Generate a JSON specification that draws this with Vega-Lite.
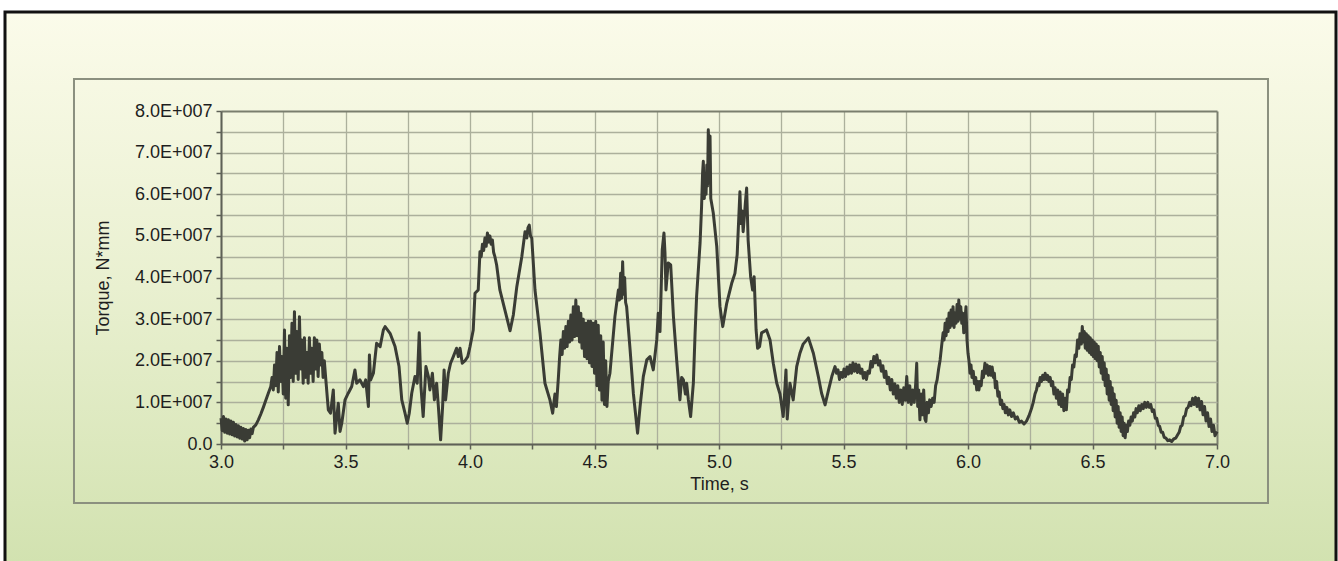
{
  "$schema": "https://vega.github.io/schema/vega-lite/v6.json",
  "width": 1331,
  "height": 551,
  "autosize": {"type": "none"},
  "padding": {"left": 5, "top": 12, "right": 2, "bottom": -2},
  "background": "#ffffff",
  "config": {
    "view": {
      "fill": {"gradient": "linear", "x1": 0, "y1": 0, "x2": 0, "y2": 1,
        "stops": [{"offset": 0, "color": "#fbfbea"}, {"offset": 0.5, "color": "#e9f0d0"}, {"offset": 1, "color": "#d2e2b0"}]},
      "stroke": "#111111",
      "strokeWidth": 3
    }
  },
  "resolve": {"axis": {"x": "independent", "y": "independent"}},
  "layer": [
    {
      "data": {"values": [{}]},
      "mark": {"type": "rect", "filled": false, "stroke": "#8b907f", "strokeWidth": 2},
      "encoding": {
        "x": {"datum": 2.4096, "type": "quantitative",
          "scale": {"domain": [3, 7], "range": [216, 1212], "nice": false, "zero": false},
          "axis": {"orient": "top", "grid": true, "labels": false, "ticks": false, "domain": false, "title": null,
            "values": [3, 3.25, 3.5, 3.75, 4, 4.25, 4.5, 4.75, 5, 5.25, 5.5, 5.75, 6, 6.25, 6.5, 6.75, 7],
            "gridColor": {"condition": {"test": "datum.value >= 7", "value": "#7a7e6e"}, "value": "#acb09c"},
            "gridWidth": {"condition": {"test": "datum.value >= 7", "value": 2}, "value": 1.3}}},
        "x2": {"datum": 7.2048},
        "y": {"datum": 87688000, "type": "quantitative",
          "scale": {"domain": [0, 80000000], "range": [432, 99], "nice": false, "zero": false},
          "axis": null},
        "y2": {"datum": -14174000}
      }
    },
    {
      "data": {"values": [
{"t":3.000,"v":0.62e7},{"t":3.005,"v":0.32e7},{"t":3.010,"v":0.66e7},{"t":3.015,"v":0.28e7},{"t":3.020,"v":0.60e7},{"t":3.025,"v":0.26e7},{"t":3.030,"v":0.58e7},{"t":3.035,"v":0.24e7},{"t":3.040,"v":0.55e7},{"t":3.045,"v":0.22e7},{"t":3.050,"v":0.52e7},{"t":3.055,"v":0.19e7},{"t":3.060,"v":0.47e7},{"t":3.065,"v":0.17e7},{"t":3.070,"v":0.44e7},{"t":3.075,"v":0.14e7},{"t":3.080,"v":0.40e7},{"t":3.085,"v":0.12e7},{"t":3.090,"v":0.37e7},{"t":3.095,"v":0.07e7},{"t":3.100,"v":0.35e7},{"t":3.105,"v":0.10e7},{"t":3.110,"v":0.33e7},{"t":3.115,"v":0.15e7},{"t":3.120,"v":0.36e7},{"t":3.125,"v":0.25e7},{"t":3.130,"v":0.40e7},{"t":3.140,"v":0.46e7},{"t":3.150,"v":0.58e7},{"t":3.160,"v":0.72e7},{"t":3.170,"v":0.88e7},{"t":3.180,"v":1.05e7},{"t":3.190,"v":1.22e7},{"t":3.200,"v":1.38e7},
{"t":3.205,"v":1.6e7},{"t":3.210,"v":1.3e7},{"t":3.215,"v":1.9e7},{"t":3.220,"v":1.4e7},{"t":3.225,"v":2.2e7},{"t":3.230,"v":1.25e7},{"t":3.235,"v":2.34e7},{"t":3.240,"v":1.5e7},{"t":3.245,"v":2.1e7},{"t":3.250,"v":1.2e7},{"t":3.255,"v":2.74e7},{"t":3.260,"v":1.1e7},{"t":3.265,"v":2.3e7},{"t":3.270,"v":0.94e7},{"t":3.275,"v":2.6e7},{"t":3.280,"v":1.6e7},{"t":3.285,"v":2.9e7},{"t":3.290,"v":1.5e7},{"t":3.295,"v":3.18e7},{"t":3.300,"v":1.7e7},{"t":3.305,"v":2.7e7},{"t":3.310,"v":1.55e7},{"t":3.315,"v":3.06e7},{"t":3.320,"v":1.8e7},{"t":3.325,"v":2.5e7},{"t":3.330,"v":1.46e7},{"t":3.335,"v":2.55e7},{"t":3.340,"v":1.6e7},{"t":3.345,"v":2.2e7},{"t":3.350,"v":1.46e7},{"t":3.355,"v":2.55e7},{"t":3.360,"v":1.7e7},{"t":3.365,"v":2.3e7},{"t":3.370,"v":1.5e7},{"t":3.375,"v":2.55e7},{"t":3.380,"v":1.8e7},{"t":3.385,"v":2.5e7},{"t":3.390,"v":1.62e7},{"t":3.395,"v":2.4e7},{"t":3.400,"v":1.9e7},{"t":3.405,"v":2.2e7},{"t":3.410,"v":1.6e7},{"t":3.415,"v":2.0e7},{"t":3.420,"v":1.62e7},
{"t":3.431,"v":0.82e7},{"t":3.440,"v":0.74e7},{"t":3.451,"v":1.3e7},{"t":3.458,"v":0.26e7},{"t":3.471,"v":0.98e7},{"t":3.478,"v":0.3e7},{"t":3.485,"v":0.5e7},{"t":3.498,"v":1.06e7},{"t":3.511,"v":1.22e7},{"t":3.525,"v":1.38e7},{"t":3.538,"v":1.78e7},{"t":3.545,"v":1.46e7},{"t":3.558,"v":1.54e7},{"t":3.572,"v":1.38e7},{"t":3.581,"v":1.54e7},{"t":3.592,"v":0.9e7},{"t":3.596,"v":2.14e7},{"t":3.601,"v":1.54e7},{"t":3.612,"v":1.7e7},{"t":3.625,"v":2.42e7},{"t":3.639,"v":2.34e7},{"t":3.652,"v":2.74e7},{"t":3.659,"v":2.82e7},{"t":3.679,"v":2.66e7},{"t":3.699,"v":2.34e7},{"t":3.715,"v":1.86e7},{"t":3.726,"v":1.06e7},{"t":3.739,"v":0.74e7},{"t":3.748,"v":0.5e7},{"t":3.756,"v":0.74e7},{"t":3.766,"v":1.22e7},{"t":3.779,"v":1.62e7},{"t":3.788,"v":1.46e7},{"t":3.796,"v":2.67e7},{"t":3.803,"v":1.38e7},{"t":3.812,"v":0.66e7},{"t":3.823,"v":1.86e7},{"t":3.833,"v":1.62e7},{"t":3.839,"v":1.3e7},{"t":3.849,"v":1.7e7},{"t":3.857,"v":1.06e7},{"t":3.866,"v":1.46e7},{"t":3.873,"v":0.9e7},{"t":3.882,"v":0.1e7},{"t":3.890,"v":0.9e7},{"t":3.896,"v":1.78e7},{"t":3.902,"v":1.06e7},{"t":3.913,"v":1.7e7},{"t":3.922,"v":1.94e7},{"t":3.933,"v":2.1e7},{"t":3.946,"v":2.3e7},{"t":3.953,"v":2.1e7},{"t":3.960,"v":2.3e7},{"t":3.969,"v":1.94e7},{"t":3.980,"v":2.0e7},{"t":3.991,"v":2.1e7},{"t":4.000,"v":2.34e7},{"t":4.013,"v":2.74e7},{"t":4.020,"v":3.62e7},{"t":4.033,"v":3.7e7},{"t":4.040,"v":4.62e7},{"t":4.045,"v":4.5e7},{"t":4.050,"v":4.8e7},{"t":4.055,"v":4.65e7},{"t":4.060,"v":4.95e7},{"t":4.065,"v":4.75e7},{"t":4.070,"v":5.07e7},{"t":4.075,"v":4.85e7},{"t":4.080,"v":5.0e7},{"t":4.085,"v":4.8e7},{"t":4.090,"v":4.9e7},{"t":4.095,"v":4.6e7},{"t":4.100,"v":4.5e7},{"t":4.107,"v":4.3e7},{"t":4.120,"v":3.7e7},{"t":4.141,"v":3.2e7},{"t":4.161,"v":2.72e7},{"t":4.174,"v":3.1e7},{"t":4.188,"v":3.78e7},{"t":4.208,"v":4.5e7},{"t":4.221,"v":5.1e7},{"t":4.228,"v":4.95e7},{"t":4.233,"v":5.2e7},{"t":4.238,"v":5.26e7},{"t":4.243,"v":5.0e7},{"t":4.248,"v":4.95e7},{"t":4.261,"v":3.7e7},{"t":4.281,"v":2.67e7},{"t":4.301,"v":1.46e7},{"t":4.321,"v":1.06e7},{"t":4.332,"v":0.74e7},{"t":4.341,"v":1.2e7},{"t":4.347,"v":0.9e7},{"t":4.355,"v":1.6e7},
{"t":4.360,"v":2.1e7},{"t":4.365,"v":2.5e7},{"t":4.370,"v":2.15e7},{"t":4.375,"v":2.7e7},{"t":4.380,"v":2.3e7},{"t":4.385,"v":2.82e7},{"t":4.390,"v":2.34e7},{"t":4.395,"v":2.95e7},{"t":4.400,"v":2.45e7},{"t":4.405,"v":3.1e7},{"t":4.410,"v":2.5e7},{"t":4.415,"v":3.3e7},{"t":4.420,"v":2.58e7},{"t":4.425,"v":3.46e7},{"t":4.430,"v":2.6e7},{"t":4.435,"v":3.3e7},{"t":4.440,"v":2.45e7},{"t":4.445,"v":3.14e7},{"t":4.450,"v":2.3e7},{"t":4.455,"v":3.0e7},{"t":4.460,"v":2.1e7},{"t":4.465,"v":2.9e7},{"t":4.470,"v":2.05e7},{"t":4.475,"v":2.95e7},{"t":4.480,"v":1.95e7},{"t":4.485,"v":2.95e7},{"t":4.490,"v":1.86e7},{"t":4.495,"v":2.9e7},{"t":4.500,"v":1.7e7},{"t":4.505,"v":2.95e7},{"t":4.510,"v":1.4e7},{"t":4.515,"v":2.85e7},{"t":4.520,"v":1.3e7},{"t":4.525,"v":2.6e7},{"t":4.530,"v":1.05e7},{"t":4.535,"v":2.45e7},{"t":4.540,"v":0.95e7},{"t":4.545,"v":2.0e7},{"t":4.550,"v":0.9e7},{"t":4.555,"v":1.5e7},{"t":4.562,"v":1.7e7},
{"t":4.582,"v":3.06e7},{"t":4.596,"v":3.7e7},{"t":4.600,"v":3.46e7},{"t":4.605,"v":4.1e7},{"t":4.609,"v":3.5e7},{"t":4.613,"v":4.38e7},{"t":4.617,"v":3.6e7},{"t":4.621,"v":4.0e7},{"t":4.625,"v":3.4e7},{"t":4.629,"v":3.3e7},{"t":4.643,"v":2.26e7},{"t":4.656,"v":1.22e7},{"t":4.673,"v":0.26e7},{"t":4.683,"v":0.9e7},{"t":4.696,"v":1.62e7},{"t":4.710,"v":2.02e7},{"t":4.723,"v":2.1e7},{"t":4.736,"v":1.78e7},{"t":4.750,"v":2.5e7},{"t":4.756,"v":3.14e7},{"t":4.763,"v":2.7e7},{"t":4.772,"v":4.66e7},{"t":4.779,"v":5.07e7},{"t":4.783,"v":4.6e7},{"t":4.787,"v":3.7e7},{"t":4.796,"v":4.35e7},{"t":4.806,"v":4.3e7},{"t":4.817,"v":3.06e7},{"t":4.830,"v":2.02e7},{"t":4.843,"v":1.06e7},{"t":4.850,"v":1.6e7},{"t":4.857,"v":1.54e7},{"t":4.865,"v":1.2e7},{"t":4.870,"v":1.46e7},{"t":4.877,"v":1.06e7},{"t":4.886,"v":0.66e7},{"t":4.897,"v":1.46e7},{"t":4.904,"v":2.67e7},{"t":4.910,"v":3.54e7},{"t":4.924,"v":4.83e7},{"t":4.930,"v":5.7e7},{"t":4.934,"v":6.5e7},{"t":4.937,"v":6.79e7},{"t":4.941,"v":5.9e7},{"t":4.944,"v":6.5e7},{"t":4.948,"v":6.0e7},{"t":4.951,"v":6.7e7},{"t":4.954,"v":6.2e7},{"t":4.957,"v":7.55e7},{"t":4.961,"v":6.8e7},{"t":4.964,"v":7.4e7},{"t":4.967,"v":5.9e7},{"t":4.977,"v":5.55e7},{"t":4.991,"v":4.74e7},{"t":5.004,"v":3.3e7},{"t":5.015,"v":2.82e7},{"t":5.031,"v":3.38e7},{"t":5.051,"v":3.86e7},{"t":5.064,"v":4.1e7},{"t":5.073,"v":4.55e7},{"t":5.084,"v":6.06e7},{"t":5.088,"v":5.3e7},{"t":5.093,"v":5.6e7},{"t":5.097,"v":5.1e7},{"t":5.101,"v":5.4e7},{"t":5.106,"v":5.8e7},{"t":5.111,"v":6.15e7},{"t":5.117,"v":4.9e7},{"t":5.127,"v":4.02e7},{"t":5.135,"v":3.7e7},{"t":5.141,"v":4.02e7},{"t":5.149,"v":2.74e7},{"t":5.155,"v":2.3e7},{"t":5.163,"v":2.34e7},{"t":5.171,"v":2.67e7},{"t":5.191,"v":2.74e7},{"t":5.205,"v":2.5e7},{"t":5.218,"v":1.94e7},{"t":5.232,"v":1.46e7},{"t":5.245,"v":1.2e7},{"t":5.258,"v":0.66e7},{"t":5.269,"v":1.78e7},{"t":5.274,"v":0.6e7},{"t":5.285,"v":1.46e7},{"t":5.298,"v":1.06e7},{"t":5.312,"v":1.86e7},{"t":5.325,"v":2.18e7},{"t":5.338,"v":2.4e7},{"t":5.359,"v":2.55e7},{"t":5.379,"v":2.18e7},{"t":5.399,"v":1.62e7},{"t":5.412,"v":1.22e7},{"t":5.426,"v":0.94e7},{"t":5.440,"v":1.3e7},{"t":5.453,"v":1.62e7},
{"t":5.466,"v":1.86e7},{"t":5.472,"v":1.7e7},{"t":5.478,"v":1.78e7},{"t":5.484,"v":1.55e7},{"t":5.490,"v":1.72e7},{"t":5.496,"v":1.6e7},{"t":5.502,"v":1.8e7},{"t":5.508,"v":1.62e7},{"t":5.514,"v":1.85e7},{"t":5.520,"v":1.68e7},{"t":5.526,"v":1.9e7},{"t":5.532,"v":1.7e7},{"t":5.538,"v":1.95e7},{"t":5.544,"v":1.75e7},{"t":5.550,"v":1.92e7},{"t":5.556,"v":1.72e7},{"t":5.562,"v":1.9e7},{"t":5.568,"v":1.7e7},{"t":5.574,"v":1.8e7},{"t":5.580,"v":1.58e7},{"t":5.586,"v":1.72e7},{"t":5.592,"v":1.55e7},{"t":5.598,"v":1.75e7},{"t":5.604,"v":1.7e7},{"t":5.610,"v":1.98e7},{"t":5.616,"v":1.85e7},{"t":5.622,"v":2.1e7},{"t":5.628,"v":1.95e7},{"t":5.634,"v":2.14e7},{"t":5.640,"v":1.9e7},{"t":5.646,"v":2.0e7},{"t":5.652,"v":1.75e7},{"t":5.658,"v":1.88e7},{"t":5.664,"v":1.6e7},{"t":5.670,"v":1.75e7},{"t":5.676,"v":1.45e7},{"t":5.682,"v":1.6e7},{"t":5.688,"v":1.3e7},{"t":5.694,"v":1.55e7},{"t":5.700,"v":1.2e7},{"t":5.706,"v":1.45e7},{"t":5.712,"v":1.1e7},{"t":5.718,"v":1.4e7},{"t":5.724,"v":1.0e7},{"t":5.730,"v":1.3e7},{"t":5.736,"v":0.95e7},{"t":5.742,"v":1.35e7},{"t":5.748,"v":1.05e7},{"t":5.754,"v":1.62e7},{"t":5.760,"v":1.0e7},{"t":5.766,"v":1.4e7},{"t":5.772,"v":0.95e7},{"t":5.778,"v":1.3e7},{"t":5.784,"v":1.0e7},{"t":5.790,"v":1.45e7},{"t":5.794,"v":1.94e7},{"t":5.798,"v":0.9e7},{"t":5.802,"v":1.3e7},{"t":5.807,"v":0.58e7},{"t":5.812,"v":1.2e7},{"t":5.817,"v":0.7e7},{"t":5.822,"v":1.3e7},{"t":5.827,"v":0.6e7},{"t":5.831,"v":0.54e7},{"t":5.836,"v":1.0e7},{"t":5.841,"v":0.75e7},{"t":5.846,"v":1.06e7},{"t":5.852,"v":0.9e7},{"t":5.858,"v":1.1e7},{"t":5.864,"v":1.0e7},{"t":5.870,"v":1.4e7},{"t":5.876,"v":1.54e7},{"t":5.882,"v":1.8e7},{"t":5.888,"v":2.02e7},{"t":5.894,"v":2.35e7},{"t":5.900,"v":2.67e7},
{"t":5.904,"v":2.5e7},{"t":5.908,"v":2.9e7},{"t":5.912,"v":2.6e7},{"t":5.916,"v":3.0e7},{"t":5.920,"v":2.7e7},{"t":5.924,"v":3.15e7},{"t":5.928,"v":2.8e7},{"t":5.932,"v":3.22e7},{"t":5.936,"v":2.85e7},{"t":5.940,"v":3.3e7},{"t":5.944,"v":2.8e7},{"t":5.948,"v":3.14e7},{"t":5.952,"v":2.9e7},{"t":5.956,"v":3.35e7},{"t":5.960,"v":2.95e7},{"t":5.963,"v":3.46e7},{"t":5.967,"v":3.0e7},{"t":5.971,"v":3.3e7},{"t":5.975,"v":2.9e7},{"t":5.979,"v":3.14e7},{"t":5.983,"v":2.67e7},{"t":5.988,"v":3.0e7},{"t":5.992,"v":3.3e7},{"t":5.996,"v":2.5e7},{"t":6.000,"v":2.18e7},
{"t":6.004,"v":2.0e7},{"t":6.008,"v":1.7e7},{"t":6.012,"v":1.9e7},{"t":6.016,"v":1.6e7},{"t":6.021,"v":1.75e7},{"t":6.026,"v":1.45e7},{"t":6.031,"v":1.6e7},{"t":6.035,"v":1.3e7},{"t":6.040,"v":1.5e7},{"t":6.044,"v":1.3e7},{"t":6.048,"v":1.5e7},{"t":6.053,"v":1.4e7},{"t":6.058,"v":1.75e7},{"t":6.062,"v":1.6e7},{"t":6.068,"v":1.94e7},{"t":6.072,"v":1.7e7},{"t":6.077,"v":1.9e7},{"t":6.082,"v":1.65e7},{"t":6.088,"v":1.86e7},{"t":6.092,"v":1.65e7},{"t":6.097,"v":1.85e7},{"t":6.102,"v":1.6e7},{"t":6.106,"v":1.7e7},{"t":6.110,"v":1.35e7},{"t":6.115,"v":1.5e7},{"t":6.120,"v":1.15e7},{"t":6.125,"v":1.25e7},{"t":6.130,"v":0.95e7},{"t":6.135,"v":1.05e7},{"t":6.140,"v":0.85e7},{"t":6.145,"v":0.95e7},{"t":6.150,"v":0.75e7},{"t":6.156,"v":0.88e7},{"t":6.162,"v":0.7e7},{"t":6.168,"v":0.82e7},{"t":6.175,"v":0.66e7},{"t":6.182,"v":0.75e7},{"t":6.190,"v":0.6e7},{"t":6.198,"v":0.65e7},{"t":6.206,"v":0.52e7},{"t":6.215,"v":0.55e7},{"t":6.225,"v":0.48e7},{"t":6.235,"v":0.55e7},{"t":6.245,"v":0.68e7},{"t":6.255,"v":0.85e7},{"t":6.262,"v":1.0e7},{"t":6.269,"v":1.2e7},{"t":6.275,"v":1.3e7},{"t":6.280,"v":1.45e7},{"t":6.285,"v":1.4e7},{"t":6.290,"v":1.6e7},{"t":6.295,"v":1.5e7},{"t":6.300,"v":1.65e7},{"t":6.305,"v":1.55e7},{"t":6.310,"v":1.7e7},{"t":6.315,"v":1.55e7},{"t":6.320,"v":1.65e7},{"t":6.325,"v":1.5e7},{"t":6.330,"v":1.6e7},{"t":6.335,"v":1.4e7},{"t":6.340,"v":1.5e7},{"t":6.345,"v":1.2e7},{"t":6.350,"v":1.35e7},{"t":6.355,"v":1.1e7},{"t":6.360,"v":1.3e7},{"t":6.365,"v":0.95e7},{"t":6.370,"v":1.25e7},{"t":6.375,"v":0.9e7},{"t":6.380,"v":1.2e7},{"t":6.385,"v":0.8e7},{"t":6.390,"v":1.1e7},{"t":6.395,"v":0.82e7},{"t":6.400,"v":1.3e7},{"t":6.405,"v":1.25e7},{"t":6.410,"v":1.6e7},{"t":6.415,"v":1.55e7},{"t":6.420,"v":1.9e7},{"t":6.425,"v":1.85e7},{"t":6.430,"v":2.14e7},{"t":6.435,"v":2.1e7},{"t":6.440,"v":2.5e7},
{"t":6.445,"v":2.3e7},{"t":6.450,"v":2.65e7},{"t":6.455,"v":2.4e7},{"t":6.459,"v":2.82e7},{"t":6.463,"v":2.45e7},{"t":6.467,"v":2.7e7},{"t":6.471,"v":2.3e7},{"t":6.475,"v":2.65e7},{"t":6.479,"v":2.25e7},{"t":6.483,"v":2.6e7},{"t":6.487,"v":2.2e7},{"t":6.491,"v":2.55e7},{"t":6.495,"v":2.15e7},{"t":6.499,"v":2.5e7},{"t":6.503,"v":2.1e7},{"t":6.507,"v":2.45e7},{"t":6.511,"v":2.05e7},{"t":6.515,"v":2.4e7},{"t":6.519,"v":2.0e7},{"t":6.523,"v":2.35e7},{"t":6.527,"v":1.85e7},{"t":6.531,"v":2.2e7},{"t":6.535,"v":1.7e7},{"t":6.539,"v":2.1e7},{"t":6.543,"v":1.55e7},{"t":6.547,"v":1.95e7},{"t":6.551,"v":1.4e7},{"t":6.555,"v":1.8e7},{"t":6.559,"v":1.2e7},{"t":6.563,"v":1.65e7},{"t":6.567,"v":1.05e7},{"t":6.571,"v":1.5e7},{"t":6.575,"v":0.95e7},{"t":6.579,"v":1.35e7},{"t":6.583,"v":0.8e7},{"t":6.587,"v":1.2e7},{"t":6.591,"v":0.65e7},{"t":6.595,"v":1.05e7},{"t":6.599,"v":0.5e7},{"t":6.603,"v":0.9e7},{"t":6.607,"v":0.4e7},{"t":6.611,"v":0.75e7},{"t":6.615,"v":0.3e7},{"t":6.619,"v":0.65e7},{"t":6.623,"v":0.2e7},{"t":6.627,"v":0.5e7},{"t":6.631,"v":0.15e7},{"t":6.636,"v":0.45e7},{"t":6.640,"v":0.3e7},{"t":6.645,"v":0.55e7},{"t":6.650,"v":0.45e7},{"t":6.655,"v":0.65e7},{"t":6.660,"v":0.55e7},{"t":6.665,"v":0.75e7},{"t":6.670,"v":0.65e7},{"t":6.675,"v":0.85e7},{"t":6.680,"v":0.75e7},{"t":6.686,"v":0.92e7},{"t":6.692,"v":0.8e7},{"t":6.698,"v":0.95e7},{"t":6.704,"v":0.85e7},{"t":6.710,"v":1.0e7},{"t":6.716,"v":0.88e7},{"t":6.722,"v":1.0e7},{"t":6.728,"v":0.88e7},{"t":6.734,"v":0.95e7},{"t":6.740,"v":0.78e7},{"t":6.746,"v":0.82e7},{"t":6.752,"v":0.62e7},{"t":6.758,"v":0.62e7},{"t":6.764,"v":0.45e7},{"t":6.770,"v":0.42e7},{"t":6.776,"v":0.28e7},{"t":6.782,"v":0.28e7},{"t":6.788,"v":0.16e7},{"t":6.795,"v":0.14e7},{"t":6.802,"v":0.08e7},{"t":6.810,"v":0.1e7},{"t":6.818,"v":0.06e7},{"t":6.826,"v":0.12e7},{"t":6.834,"v":0.14e7},{"t":6.842,"v":0.22e7},{"t":6.848,"v":0.28e7},{"t":6.854,"v":0.42e7},{"t":6.860,"v":0.45e7},{"t":6.866,"v":0.65e7},{"t":6.872,"v":0.68e7},{"t":6.878,"v":0.85e7},{"t":6.884,"v":0.88e7},{"t":6.890,"v":1.0e7},{"t":6.896,"v":0.92e7},{"t":6.902,"v":1.1e7},{"t":6.908,"v":0.95e7},{"t":6.914,"v":1.12e7},{"t":6.920,"v":0.9e7},{"t":6.926,"v":1.1e7},{"t":6.932,"v":0.82e7},{"t":6.938,"v":1.02e7},{"t":6.944,"v":0.7e7},{"t":6.950,"v":0.9e7},{"t":6.956,"v":0.55e7},{"t":6.962,"v":0.75e7},{"t":6.968,"v":0.42e7},{"t":6.974,"v":0.6e7},{"t":6.980,"v":0.3e7},{"t":6.986,"v":0.45e7},{"t":6.992,"v":0.2e7},{"t":7.000,"v":0.3e7}
      ]},
      "mark": {"type": "line", "color": "#3a3c35", "strokeWidth": 3, "strokeJoin": "round"},
      "encoding": {
        "x": {"field": "t", "type": "quantitative",
          "scale": {"domain": [3, 7], "range": [216, 1212], "nice": false, "zero": false},
          "axis": {"orient": "bottom", "offset": -119, "grid": false,
            "values": [3, 3.25, 3.5, 3.75, 4, 4.25, 4.5, 4.75, 5, 5.25, 5.5, 5.75, 6, 6.25, 6.5, 6.75, 7],
            "labelExpr": "round(datum.value * 4) % 2 == 0 ? format(datum.value, '.1f') : ''",
            "labelFlush": false, "labelOverlap": false,
            "tickSize": 5, "tickColor": "#5e6157", "tickWidth": 1.5,
            "domainColor": "#5e6157", "domainWidth": 2,
            "labelFont": "Liberation Sans", "labelFontSize": 18, "labelColor": "#1e1e1e", "labelPadding": 4,
            "title": "Time, s", "titleFont": "Liberation Sans", "titleFontSize": 18, "titleFontWeight": "normal",
            "titleColor": "#1e1e1e", "titlePadding": 4}},
        "y": {"field": "v", "type": "quantitative",
          "scale": {"domain": [0, 80000000], "range": [432, 99], "nice": false, "zero": false},
          "axis": {"orient": "left", "offset": -216, "grid": true,
            "values": [0, 5000000, 10000000, 15000000, 20000000, 25000000, 30000000, 35000000, 40000000, 45000000, 50000000, 55000000, 60000000, 65000000, 70000000, 75000000, 80000000],
            "labelExpr": "datum.value == 0 ? '0.0' : (datum.value % 10000000 == 0 ? format(datum.value / 10000000, '.1f') + 'E+007' : '')",
            "labelFlush": false, "labelOverlap": false,
            "gridColor": {"condition": {"test": "datum.value >= 80000000", "value": "#7a7e6e"}, "value": "#acb09c"},
            "gridWidth": {"condition": {"test": "datum.value >= 80000000", "value": 2}, "value": 1.3},
            "tickSize": 5, "tickColor": "#5e6157", "tickWidth": 1.5,
            "domainColor": "#5e6157", "domainWidth": 2,
            "labelFont": "Liberation Sans", "labelFontSize": 18, "labelColor": "#1e1e1e", "labelPadding": 4,
            "title": "Torque, N*mm", "titleFont": "Liberation Sans", "titleFontSize": 18, "titleFontWeight": "normal",
            "titleColor": "#1e1e1e", "titlePadding": 22}}
      }
    }
  ]
}
